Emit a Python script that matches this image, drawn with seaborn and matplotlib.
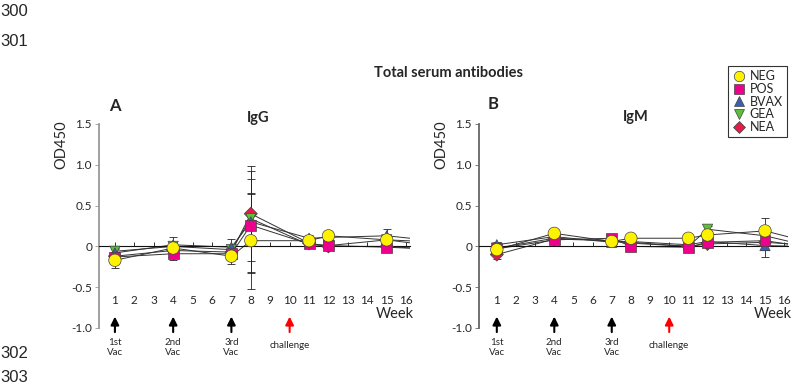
import numpy as np
import pandas as pd
import matplotlib
matplotlib.use("Agg")
import matplotlib.pyplot as plt
from matplotlib.lines import Line2D
import seaborn as sns

# ---------------- data ----------------
weeks = [1, 4, 7, 8, 11, 12, 15, 17]
groups = ["NEG", "POS", "BVAX", "GEA", "NEA"]
tick_weeks = list(range(1, 17))

igg_NEG = [-0.17, -0.02, -0.12, 0.07, 0.07, 0.13, 0.08, 0.06]
igg_POS = [-0.13, -0.09, -0.09, 0.26, 0.03, 0.01, -0.01, -0.03]
igg_BVAX = [-0.08, 0.02, -0.01, 0.30, 0.10, 0.11, 0.13, 0.08]
igg_GEA = [-0.06, 0.00, -0.04, 0.34, 0.02, 0.01, 0.08, 0.02]
igg_NEA = [-0.12, -0.05, -0.07, 0.40, 0.04, 0.00, 0.00, -0.03]

igg_sd_NEG = [0.10, 0.08, 0.09, 0.59, 0.05, 0.05, 0.06, 0]
igg_sd_POS = [0.06, 0.08, 0.06, 0.57, 0.04, 0.05, 0.04, 0]
igg_sd_BVAX = [0.05, 0.09, 0.10, 0.63, 0.04, 0.05, 0.08, 0]
igg_sd_GEA = [0.04, 0.05, 0.05, 0.30, 0.04, 0.03, 0.05, 0]
igg_sd_NEA = [0.05, 0.06, 0.06, 0.58, 0.04, 0.04, 0.04, 0]

igm_NEG = [-0.04, 0.16, 0.06, 0.10, 0.10, 0.14, 0.19, 0.07]
igm_POS = [-0.03, 0.08, 0.10, 0.00, -0.01, 0.05, 0.07, 0.00]
igm_BVAX = [0.02, 0.12, 0.05, 0.06, 0.02, 0.06, 0.01, 0.00]
igm_GEA = [-0.02, 0.10, 0.07, 0.05, 0.00, 0.21, 0.13, 0.02]
igm_NEA = [-0.10, 0.09, 0.07, 0.04, 0.00, 0.03, 0.05, 0.02]

igm_sd_NEG = [0.05, 0.03, 0.03, 0.03, 0.03, 0.05, 0.16, 0]
igm_sd_POS = [0.04, 0.03, 0.03, 0.03, 0.03, 0.05, 0.12, 0]
igm_sd_BVAX = [0.03, 0.03, 0.03, 0.03, 0.03, 0.04, 0.14, 0]
igm_sd_GEA = [0.04, 0.03, 0.03, 0.03, 0.03, 0.04, 0.10, 0]
igm_sd_NEA = [0.05, 0.03, 0.03, 0.03, 0.03, 0.04, 0.10, 0]

vac_weeks = [1, 4, 7]
vac_labels = ["1st\nVac", "2nd\nVac", "3rd\nVac"]
challenge_week = 10

# ---------------- style ----------------
sns.set_theme(style="ticks")
plt.rcParams["font.family"] = ["Lato", "DejaVu Sans"]

palette = {"NEG": "#FFF200", "POS": "#EC008C", "BVAX": "#3A5FAF",
           "GEA": "#5CBF3A", "NEA": "#E31B4B"}
markers = {"NEG": "o", "POS": "s", "BVAX": "^", "GEA": "v", "NEA": "D"}
sizes = {"NEG": 80, "POS": 62, "BVAX": 55, "GEA": 55, "NEA": 45}
leg_ms = {"NEG": 7.5, "POS": 7, "BVAX": 7.5, "GEA": 7.5, "NEA": 6}

def make_df(vals, sds):
    rows = []
    for g in reversed(groups):  # NEG drawn last (on top)
        for w, v, s in zip(weeks, vals[g], sds[g]):
            rows.append({"week": w, "od": v, "sd": s, "group": g})
    return pd.DataFrame(rows)

df_igg = make_df({"NEG": igg_NEG, "POS": igg_POS, "BVAX": igg_BVAX, "GEA": igg_GEA, "NEA": igg_NEA},
                 {"NEG": igg_sd_NEG, "POS": igg_sd_POS, "BVAX": igg_sd_BVAX, "GEA": igg_sd_GEA, "NEA": igg_sd_NEA})
df_igm = make_df({"NEG": igm_NEG, "POS": igm_POS, "BVAX": igm_BVAX, "GEA": igm_GEA, "NEA": igm_NEA},
                 {"NEG": igm_sd_NEG, "POS": igm_sd_POS, "BVAX": igm_sd_BVAX, "GEA": igm_sd_GEA, "NEA": igm_sd_NEA})

fig = plt.figure(figsize=(8.0, 3.89), dpi=100)
axA = fig.add_axes([99 / 800, 1 - 328 / 389, 311 / 800, 204 / 389])
axB = fig.add_axes([479 / 800, 1 - 328 / 389, 309 / 800, 204 / 389])

def draw_panel(ax, df, xleft, spine_color):
    for g in groups:
        sub = df[df.group == g]
        ax.errorbar(sub.week, sub.od, yerr=sub.sd, fmt="none", ecolor="#222222",
                    elinewidth=0.6, capsize=3, capthick=0.6, zorder=1)
    sns.lineplot(data=df, x="week", y="od", units="group", estimator=None,
                 color="#333333", lw=0.7, ax=ax, legend=False, zorder=2, sort=True)
    sns.scatterplot(data=df, x="week", y="od", hue="group", style="group",
                    hue_order=groups, style_order=groups, palette=palette,
                    markers=markers, size="group", sizes=sizes, size_order=groups,
                    edgecolor="#444444", linewidth=0.5, ax=ax, legend=False, zorder=3)
    ax.set_xlim(xleft, 16.2)
    ax.set_ylim(-1.0, 1.5)
    ax.spines["top"].set_visible(False)
    ax.spines["right"].set_visible(False)
    ax.spines["bottom"].set_position(("data", 0))
    ax.spines["bottom"].set_color("#111111")
    ax.spines["bottom"].set_linewidth(0.8)
    ax.spines["left"].set_bounds(-1.0, 1.5)
    ax.spines["left"].set_color(spine_color)
    ax.spines["left"].set_linewidth(1.3)
    ax.set_xticks(tick_weeks)
    ax.set_xticklabels([str(w) for w in tick_weeks], fontsize=8.5)
    ax.tick_params(axis="x", direction="in", length=3, width=0.6, pad=35, color="#111111")
    ax.set_yticks([-1.0, -0.5, 0, 0.5, 1.0, 1.5])
    ax.set_yticklabels(["-1.0", "-0.5", "0", "0.5", "1.0", "1.5"], fontsize=8.5)
    ax.tick_params(axis="y", direction="out", length=3, width=0.6, pad=2, color=spine_color)
    ax.set_xlabel("")
    ax.set_ylabel("OD450", fontsize=10.5)
    ax.yaxis.set_label_coords(-0.10, 0.90)
    ax.text(16.4, -0.83, "Week", ha="right", va="center", fontsize=10.5)
    aprops = dict(arrowstyle="-|>,head_width=0.2,head_length=0.4", lw=1.5,
                  shrinkA=0, shrinkB=0)
    for w, lab in zip(vac_weeks, vac_labels):
        ax.annotate("", xy=(w, -0.86), xytext=(w, -1.05),
                    arrowprops=dict(color="black", **aprops), annotation_clip=False)
        ax.text(w, -1.12, lab, ha="center", va="top", fontsize=7, linespacing=1.15,
                clip_on=False)
    ax.annotate("", xy=(challenge_week, -0.86), xytext=(challenge_week, -1.05),
                arrowprops=dict(color="red", **aprops), annotation_clip=False)
    ax.text(challenge_week, -1.22, "challenge", ha="center", va="center", fontsize=7,
            clip_on=False)

draw_panel(axA, df_igg, 0.18, "#999999")
draw_panel(axB, df_igm, 0.07, "#666666")

handles = [Line2D([], [], ls="none", marker=markers[g], markersize=leg_ms[g],
                  markerfacecolor=palette[g], markeredgecolor="#444444",
                  markeredgewidth=0.5) for g in groups]
leg = fig.legend(handles, groups,
                 loc="upper left", bbox_to_anchor=(728 / 800, 1 - 66 / 389),
                 bbox_transform=fig.transFigure, fontsize=9, frameon=True,
                 fancybox=False, edgecolor="black", handlelength=1.0,
                 handletextpad=0.4, labelspacing=0.05, borderpad=0.35,
                 borderaxespad=0)
leg.get_frame().set_linewidth(0.8)

fig.text(449 / 800, 1 - 73 / 389, "Total serum antibodies", ha="center", va="center",
         fontsize=10.5, fontweight="bold")
fig.text(115 / 800, 1 - 106 / 389, "A", ha="center", va="center", fontsize=12, fontweight="bold")
fig.text(258 / 800, 1 - 118 / 389, "IgG", ha="center", va="center", fontsize=10.5, fontweight="bold")
fig.text(493 / 800, 1 - 104 / 389, "B", ha="center", va="center", fontsize=12, fontweight="bold")
fig.text(636 / 800, 1 - 117 / 389, "IgM", ha="center", va="center", fontsize=10.5, fontweight="bold")

for txt, ypx in [("300", 12), ("301", 42), ("302", 353), ("303", 378)]:
    fig.text(0.0, 1 - ypx / 389, txt, ha="left", va="center", fontsize=12,
             family=["Liberation Sans", "DejaVu Sans"])

fig.savefig("out.png", dpi=100, facecolor="white")
